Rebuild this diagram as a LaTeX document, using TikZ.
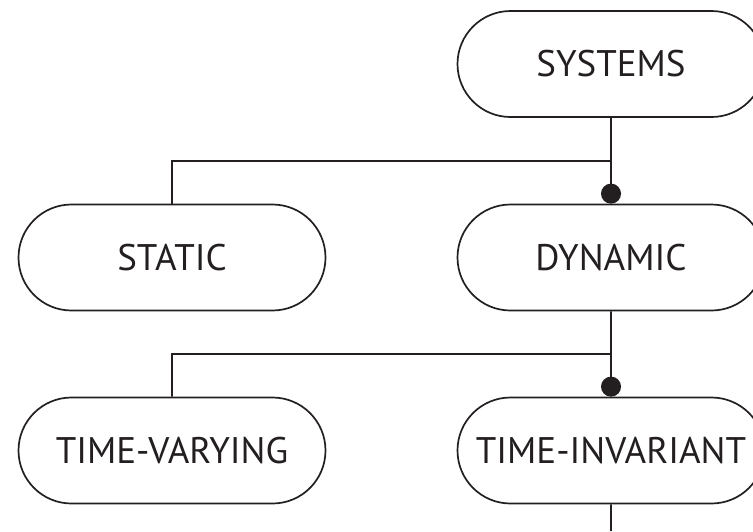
\documentclass[tikz,border=0pt]{standalone}
\usepackage{fontspec}
\setmainfont{PT Sans}
\usetikzlibrary{shapes.misc,arrows.meta}
\definecolor{ink}{HTML}{231F20}
\begin{document}
\begin{tikzpicture}[x=1pt,y=-1pt,
  sysbox/.style={rounded rectangle, draw=ink, line width=1.7pt,
    minimum width=307pt, minimum height=106pt, inner sep=0pt,
    text=ink, font=\fontsize{37}{42}\selectfont},
  wire/.style={draw=ink, line width=1.7pt},
  dotend/.style={-{Circle[length=20pt,width=20pt]}}]
\useasboundingbox (0,0) rectangle (753,531);
% classification boxes
\node[sysbox] (sys)    at (611,64)    {SYSTEMS};
\node[sysbox] (static) at (172,257.5) {STATIC};
\node[sysbox] (dyn)    at (611,257.5) {DYNAMIC};
\node[sysbox] (tv)     at (172,450.5) {TIME-VARYING};
\node[sysbox] (ti)     at (611,450.5) {TIME-INVARIANT};
% branch points and the open end below
\coordinate (j1) at (611,161);
\coordinate (j2) at (611,354);
\coordinate (tail) at (611,531);
% connectors
\draw[wire] (sys) -- (j1) -| (static);
\draw[wire,dotend] (j1) -- (dyn);
\draw[wire] (dyn) -- (j2) -| (tv);
\draw[wire,dotend] (j2) -- (ti);
\draw[wire] (ti) -- (tail);
\end{tikzpicture}
\end{document}
